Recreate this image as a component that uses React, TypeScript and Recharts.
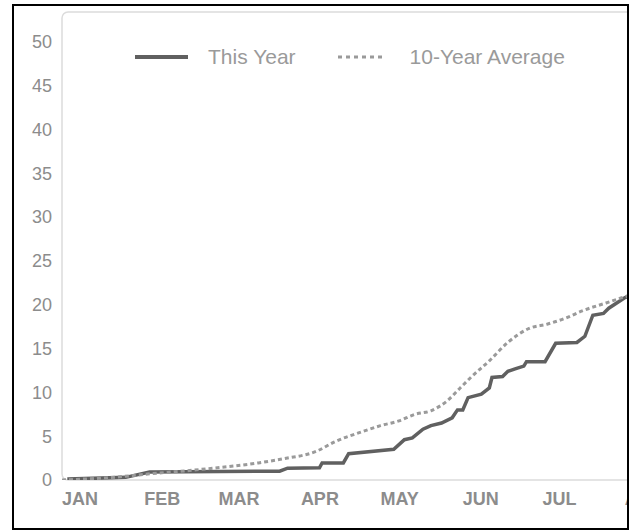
import React from 'react';
import { LineChart, Line, XAxis, YAxis, Legend, ReferenceArea } from 'recharts';

// month labels sit at the first day of each month (day of year)
const months = ['JAN', 'FEB', 'MAR', 'APR', 'MAY', 'JUN', 'JUL', 'AUG'];
const monthStartDays = [0, 31, 59, 90, 120, 151, 181, 212];
const yTicks = [0, 5, 10, 15, 20, 25, 30, 35, 40, 45, 50];
const seriesNames = ['This Year', '10-Year Average'];

const thisYearDays = [2, 24, 33, 74, 82, 85, 97, 98, 106, 108, 125, 129, 132, 136, 139, 143, 147, 149, 151, 153, 158, 161, 162, 166, 168, 171, 174, 175, 182, 186, 194, 197, 200, 204, 206, 212, 216];
const thisYearValues = [0.1, 0.3, 0.9, 1.0, 1.0, 1.35, 1.4, 1.95, 1.95, 3.0, 3.5, 4.6, 4.8, 5.8, 6.2, 6.5, 7.1, 8.0, 8.0, 9.4, 9.8, 10.5, 11.7, 11.8, 12.4, 12.7, 13.0, 13.5, 13.5, 15.6, 15.7, 16.4, 18.8, 19.0, 19.6, 20.8, 21.3];

const avgDays = [0, 14, 21, 33, 52, 74, 83, 96, 103, 112, 120, 127, 133, 139, 145, 150, 154, 161, 168, 176, 183, 190, 196, 205, 212, 220];
const avgValues = [0, 0.2, 0.35, 0.7, 1.2, 1.95, 2.4, 3.3, 4.4, 5.4, 6.2, 6.75, 7.5, 7.9, 9.0, 10.5, 11.7, 13.6, 15.7, 17.3, 17.8, 18.5, 19.3, 20.2, 20.9, 21.5];

const thisYearData = thisYearDays.map((day, i) => ({ day, value: thisYearValues[i] }));
const avgData = avgDays.map((day, i) => ({ day, value: avgValues[i] }));

const FONT = '"Liberation Sans", Arial, Helvetica, sans-serif';

const MonthTick = (props: any) => {
  const { x, y, payload } = props;
  const idx = monthStartDays.indexOf(payload.value);
  return (
    <text x={x} y={y} dy="0.71em" textAnchor="start" fill="#8c8c8c" fontSize={18} fontWeight="bold" fontFamily={FONT}>
      {months[idx]}
    </text>
  );
};

const LegendContent = (props: any) => {
  const items = [...(props.payload || [])].sort(
    (a: any, b: any) => seriesNames.indexOf(a.value) - seriesNames.indexOf(b.value)
  );
  return (
    <div style={{ display: 'flex', alignItems: 'center', fontFamily: FONT, fontSize: 21, color: '#9a9a9a', whiteSpace: 'nowrap' }}>
      {items.map((entry: any, i: number) => {
        const dashed = entry.value === '10-Year Average';
        return (
          <div key={i} style={{ display: 'flex', alignItems: 'center', marginRight: 42 }}>
            <svg width={dashed ? 48 : 53} height={8} style={{ marginRight: dashed ? 24 : 20 }}>
              <line
                x1={0}
                y1={4}
                x2={dashed ? 48 : 53}
                y2={4}
                stroke={entry.color}
                strokeWidth={dashed ? 3 : 4}
                strokeDasharray={dashed ? '4 4' : undefined}
              />
            </svg>
            <span>{entry.value}</span>
          </div>
        );
      })}
    </div>
  );
};

export default function App() {
  return (
    <div
      style={{
        position: 'absolute',
        left: 12,
        top: 4,
        width: 617,
        height: 526,
        boxSizing: 'border-box',
        border: '2px solid #000',
        overflow: 'hidden',
        background: '#fff',
      }}
    >
      <LineChart width={685} height={522} margin={{ top: 6, right: 0, bottom: 0, left: 0 }}>
        <ReferenceArea x1={0} x2={240} y1={0} y2={53.4} fill="none" stroke="#dcdcdc" strokeWidth={1.5} radius={6} />
        <XAxis
          type="number"
          dataKey="day"
          domain={[0, 240]}
          ticks={monthStartDays}
          tick={<MonthTick />}
          tickLine={false}
          axisLine={false}
          tickSize={0}
          tickMargin={12}
          height={48}
          allowDataOverflow
        />
        <YAxis
          type="number"
          domain={[0, 53.4]}
          ticks={yTicks}
          width={48}
          tickLine={false}
          axisLine={false}
          tickSize={0}
          tickMargin={10}
          allowDataOverflow
          tick={{ fill: '#8c8c8c', fontSize: 18, fontFamily: FONT }}
        />
        <Legend
          layout="horizontal"
          verticalAlign="middle"
          content={<LegendContent />}
          wrapperStyle={{ top: 39, left: 121, width: 'auto' }}
        />
        <Line
          data={thisYearData}
          dataKey="value"
          name="This Year"
          type="linear"
          stroke="#606060"
          strokeWidth={3.5}
          dot={false}
          isAnimationActive={false}
        />
        <Line
          data={avgData}
          dataKey="value"
          name="10-Year Average"
          type="monotone"
          stroke="#9a9a9a"
          strokeWidth={3}
          strokeDasharray="4 3"
          dot={false}
          isAnimationActive={false}
        />
      </LineChart>
    </div>
  );
}
